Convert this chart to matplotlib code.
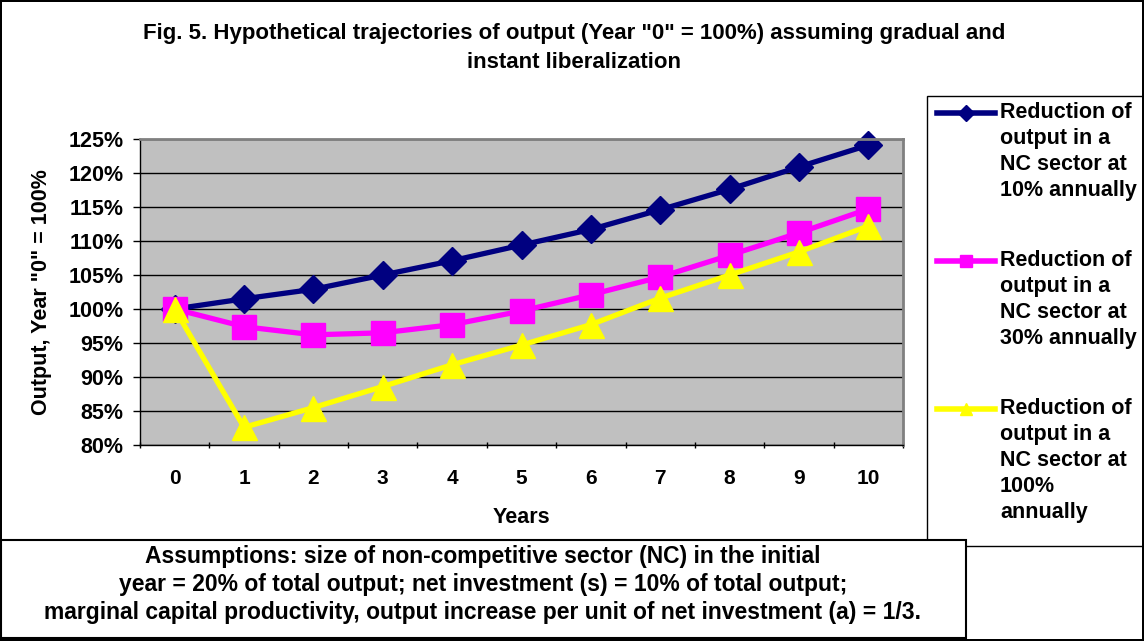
import numpy as np
import matplotlib.pyplot as plt
from matplotlib.lines import Line2D
from matplotlib.patches import Rectangle
from matplotlib.ticker import FixedLocator, FuncFormatter

plt.rcParams['font.family'] = ['Liberation Sans', 'DejaVu Sans']
plt.rcParams['font.weight'] = 'bold'
plt.rcParams['axes.labelweight'] = 'bold'

# data (output, Year "0" = 100%)
years = list(range(11))
nc10 = [100, 101.5, 102.9, 105.0, 107.1, 109.4, 111.7, 114.6, 117.6, 120.9, 124.1]
nc30 = [100, 97.4, 96.2, 96.5, 97.7, 99.7, 102.1, 104.7, 107.9, 111.2, 114.7]
nc100 = [100, 82.6, 85.5, 88.6, 91.8, 94.7, 97.7, 101.6, 105.0, 108.4, 112.2]

series_labels = ["Reduction of\noutput in a\nNC sector at\n10% annually",
                 "Reduction of\noutput in a\nNC sector at\n30% annually",
                 "Reduction of\noutput in a\nNC sector at\n100%\nannually"]
colors = ["#000080", "#FF00FF", "#FFFF00"]
markers = ["D", "s", "^"]
msizes = [14, 17, 18]

W, H = 1144, 641
def fx(px):
    return px / W
def fy(py):
    return 1 - py / H

fig = plt.figure(figsize=(W / 100, H / 100), dpi=100)
fig.patch.set_edgecolor("black")
fig.patch.set_linewidth(1.5)

ax = fig.add_axes([fx(140), fy(445), fx(903) - fx(140), fy(139) - fy(445)])
ax.set_facecolor("#C0C0C0")

for vals, c, m, ms in zip([nc10, nc30, nc100], colors, markers, msizes):
    ax.plot(years, vals, color=c, lw=3.8, marker=m, ms=ms, mec=c, mfc=c,
            clip_on=False)

ax.set_xlim(-0.5, 10.5)
ax.set_ylim(80, 125)
ax.yaxis.set_major_locator(FixedLocator(np.arange(80, 126, 5)))
ax.yaxis.set_major_formatter(FuncFormatter(lambda v, p: f"{v:.0f}%"))
ax.grid(axis="y", color="black", lw=1)
ax.set_axisbelow(True)

ax.set_xticks(years)
ax.set_xticks(np.arange(-0.5, 11, 1), minor=True)
ax.tick_params(axis="x", which="major", length=0, pad=17, labelsize=15)
ax.tick_params(axis="x", which="minor", length=5, width=1, direction="inout")
ax.tick_params(axis="y", length=5, width=1, pad=7, labelsize=15.5)

for s in ["top", "right"]:
    ax.spines[s].set_color("#808080")
    ax.spines[s].set_linewidth(2)
for s in ["left", "bottom"]:
    ax.spines[s].set_color("black")
    ax.spines[s].set_linewidth(1)

ax.set_xlabel("Years", fontsize=15.5, labelpad=14)
ax.set_ylabel('Output, Year "0" = 100%', fontsize=15.5, labelpad=12)

fig.text(fx(574), fy(33), 'Fig. 5. Hypothetical trajectories of output (Year "0" = 100%) assuming gradual and',
         ha="center", va="center", fontsize=16)
fig.text(fx(574), fy(63), "instant liberalization", ha="center", va="center", fontsize=16)

# legend box
fig.add_artist(Rectangle((fx(927), fy(546)), 1 - fx(927), fy(96) - fy(546),
                         transform=fig.transFigure, fill=False, ec="black", lw=1))
for i, (lab, c, m) in enumerate(zip(series_labels, colors, markers)):
    yy = fy(113 + i * 148)
    fig.add_artist(Line2D([fx(937), fx(966), fx(995)], [yy, yy, yy],
                          transform=fig.transFigure, color=c, lw=4,
                          marker=m, ms=8, markevery=[1]))
    fig.text(fx(1000), yy + 11 / H, lab, ha="left", va="top", fontsize=15.5,
             linespacing=1.32)

# assumptions box
fig.add_artist(Rectangle((fx(1), fy(638)), fx(966) - fx(1), fy(540) - fy(638),
                         transform=fig.transFigure, facecolor="white", ec="black", lw=1.5))
assumptions = ["Assumptions: size of non-competitive sector (NC) in the initial",
               "year = 20% of total output; net investment (s) = 10% of total output;",
               "marginal capital productivity, output increase per unit of net investment (a) = 1/3."]
for i, line in enumerate(assumptions):
    fig.text(fx(483), fy(556 + i * 28.5), line, ha="center", va="center", fontsize=16.5)

fig.savefig("out.png", dpi=100)
